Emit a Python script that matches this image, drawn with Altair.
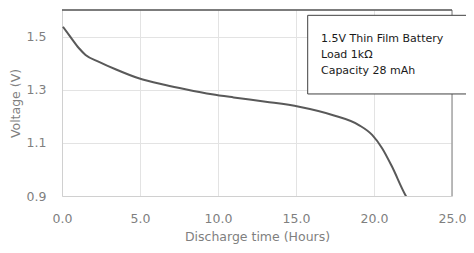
import altair as alt
import pandas as pd

hours = [0.06, 0.55, 1.09, 1.51, 2.37, 3.43, 4.92, 6.63, 7.91, 9.61, 11.0, 13.06, 15.2, 17.33, 19.03, 19.88, 20.52, 21.16, 22.01, 22.12]
volts = [1.537, 1.498, 1.456, 1.431, 1.405, 1.377, 1.343, 1.318, 1.302, 1.283, 1.271, 1.255, 1.236, 1.205, 1.167, 1.130, 1.080, 1.010, 0.904, 0.893]

x_ticks = [0, 5, 10, 15, 20, 25]
y_ticks = [0.9, 1.1, 1.3, 1.5]

note_lines = ["1.5V Thin Film Battery", "Load 1kΩ", "Capacity 28 mAh"]
note_x = [16.6, 16.6, 16.6]
note_y = [1.491, 1.431, 1.370]

box_x, box_x2, box_y, box_y2 = 15.75, 27.5, 1.580, 1.284

df = pd.DataFrame({"h": hours, "v": volts})
notes = pd.DataFrame({"t": note_lines, "x": note_x, "y": note_y})
box = pd.DataFrame({"x": [box_x], "x2": [box_x2], "y": [box_y], "y2": [box_y2]})

xs = alt.Scale(domain=[0, 25], nice=False)
ys = alt.Scale(domain=[0.9, 1.6], nice=False)

lab_font = "DejaVu Sans"
lab_col = "#7f7f7f"
fs = 12.5

line = alt.Chart(df).mark_line(color="#595959", strokeWidth=2, clip=True, interpolate="monotone").encode(
    x=alt.X("h:Q", scale=xs, title="Discharge time (Hours)",
            axis=alt.Axis(values=x_ticks, format=".1f", labelPadding=16, titlePadding=6,
                          labelFlush=False,
                          grid=True, gridColor="#e3e3e3", domainColor="#d0d0d0",
                          ticks=False, labelFont=lab_font, labelFontSize=fs, labelColor=lab_col,
                          titleFont=lab_font, titleFontSize=fs, titleColor=lab_col,
                          titleFontWeight="normal")),
    y=alt.Y("v:Q", scale=ys, title="Voltage (V)",
            axis=alt.Axis(values=y_ticks, format=".1f", labelPadding=16,
                          titleX=-40, titleY=93, titleBaseline="bottom", titleAngle=270,
                          grid=True, gridColor="#e3e3e3", domainColor="#d0d0d0",
                          ticks=False, labelFont=lab_font, labelFontSize=fs, labelColor=lab_col,
                          titleFont=lab_font, titleFontSize=fs, titleColor=lab_col,
                          titleFontWeight="normal")),
)

top_rule = alt.Chart(pd.DataFrame({"y": [1.6]})).mark_rule(color="#505050", strokeWidth=1.5).encode(
    y=alt.Y("y:Q", scale=ys), x=alt.value(0), x2=alt.value(390))
right_rule = alt.Chart(pd.DataFrame({"x": [25]})).mark_rule(color="#a6a6a6", strokeWidth=1.5).encode(
    x=alt.X("x:Q", scale=xs), y=alt.value(0), y2=alt.value(186))

rect = alt.Chart(box).mark_rect(fill="white", stroke="#404040", strokeWidth=1).encode(
    x=alt.X("x:Q", scale=xs), x2="x2:Q", y=alt.Y("y:Q", scale=ys), y2="y2:Q")

text = alt.Chart(notes).mark_text(align="left", baseline="middle", font="DejaVu Sans",
                                   fontSize=11, color="#1a1a1a").encode(
    x=alt.X("x:Q", scale=xs), y=alt.Y("y:Q", scale=ys), text="t:N")

chart = alt.layer(line, right_rule, top_rule, rect, text).properties(
    width=390, height=186,
    autosize=alt.AutoSizeParams(type="none"),
    padding={"left": 54, "top": 2, "right": 14, "bottom": 49},
).configure_view(stroke=None)

chart.save("out.html", embed_options={"renderer": "svg", "actions": False})
